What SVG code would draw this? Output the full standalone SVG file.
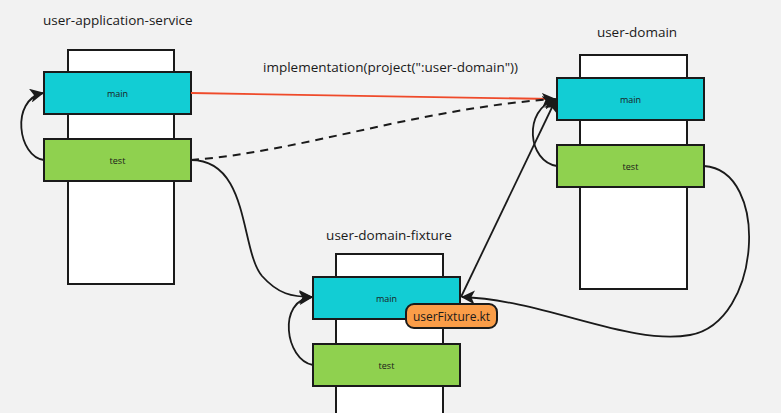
<svg xmlns="http://www.w3.org/2000/svg" width="781" height="413" viewBox="0 0 781 413">
<defs>
<style>
.bg{fill:#f2f2f2}
.col{fill:#ffffff;stroke:#1a1a1a;stroke-width:2}
.main{fill:#12cdd4;stroke:#1a1a1a;stroke-width:2}
.test{fill:#8fd14f;stroke:#1a1a1a;stroke-width:2}
.file{fill:#fa9d48;stroke:#1a1a1a;stroke-width:2}
.title{font-family:"Open Sans","Liberation Sans",sans-serif;font-size:13.5px;fill:#1a1a1a}
.lbl{font-family:"Open Sans","Liberation Sans",sans-serif;font-size:9px;fill:#1a1a1a;text-anchor:middle}
.ftxt{font-family:"Open Sans","Liberation Sans",sans-serif;font-size:12px;fill:#1a1a1a;text-anchor:middle}
.c{fill:none;stroke:#1a1a1a;stroke-width:1.8}
.dash{stroke-dasharray:8 6;stroke-width:2}
.red{fill:none;stroke:#ef4a2a;stroke-width:1.8}
</style>
<marker id="ah" viewBox="0 0 12 12" refX="11" refY="6" markerWidth="14" markerHeight="14" markerUnits="userSpaceOnUse" orient="auto">
<path d="M0,0 L12,6 L0,12 L3,6 z" fill="#1a1a1a"/>
</marker>
</defs>
<rect class="bg" x="0" y="0" width="781" height="413"/>

<g id="user-application-service">
<text class="title" x="43" y="25">user-application-service</text>
<rect class="col" x="68" y="50" width="106" height="234"/>
<g id="uas-main"><rect class="main" x="44" y="72" width="147" height="42"/><text class="lbl" x="117.5" y="96.5">main</text></g>
<g id="uas-test"><rect class="test" x="44" y="139" width="147" height="42"/><text class="lbl" x="117.5" y="163.5">test</text></g>
</g>

<g id="user-domain">
<text class="title" x="637" y="37" text-anchor="middle">user-domain</text>
<rect class="col" x="580" y="55" width="107" height="234"/>
<g id="ud-main"><rect class="main" x="557" y="78" width="147" height="42"/><text class="lbl" x="630.5" y="102.5">main</text></g>
<g id="ud-test"><rect class="test" x="557" y="145" width="147" height="42"/><text class="lbl" x="630.5" y="169.5">test</text></g>
</g>

<g id="user-domain-fixture">
<text class="title" x="389" y="240" text-anchor="middle">user-domain-fixture</text>
<rect class="col" x="336" y="254" width="107" height="170"/>
<g id="udf-main"><rect class="main" x="313" y="277" width="147" height="42"/><text class="lbl" x="386.5" y="301.5">main</text></g>
<g id="udf-test"><rect class="test" x="313" y="344" width="147" height="42"/><text class="lbl" x="386.5" y="368.5">test</text></g>
</g>

<g id="connectors">
<path class="red" d="M191,93 L552,99"/>
<path class="c dash" d="M191,160 C300,152 420,108 555,99" marker-end="url(#ah)"/>
<path class="c" d="M44,160 C18,157 10,100 43,93" marker-end="url(#ah)"/>
<path class="c" d="M191,160 C250,160 240,250 262,276 C278,294 292,297 312,297" marker-end="url(#ah)"/>
<path class="c" d="M313,365 C285,360 277,300 312,297" marker-end="url(#ah)"/>
<path class="c" d="M557,166 C528,162 522,110 556,99" marker-end="url(#ah)"/>
<path class="c" d="M461,297 L556,99" marker-end="url(#ah)"/>
<path class="c" d="M704,166 C770,170 762,322 690,335 C630,346 545,300 462,297" marker-end="url(#ah)"/>
<text class="title" x="263" y="72">implementation(project(":user-domain"))</text>
</g>

<g id="userFixture">
<rect class="file" x="406" y="304" width="91" height="24" rx="8"/>
<text class="ftxt" x="451.5" y="320.5">userFixture.kt</text>
</g>
</svg>
